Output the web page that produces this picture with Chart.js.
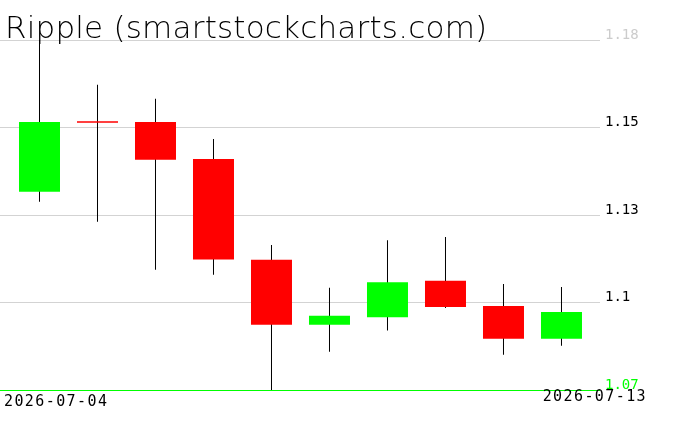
<!DOCTYPE html>
<html>
<head>
<meta charset="utf-8">
<script src="https://cdn.jsdelivr.net/npm/chart.js@4/dist/chart.umd.min.js"></script>
<style>
  html, body { margin: 0; padding: 0; background: #fff; }
  #wrap { width: 676px; height: 431px; }
</style>
</head>
<body>
<div id="wrap"><canvas id="chart" width="676" height="431"></canvas></div>
<script>
// data
const title = "Ripple (smartstockcharts.com)";
const dates = ["2026-07-04", "2026-07-05", "2026-07-06", "2026-07-07", "2026-07-08",
               "2026-07-09", "2026-07-10", "2026-07-11", "2026-07-12", "2026-07-13"];
const opens  = [1.1323, 1.1545, 1.1542, 1.1426, 1.1109, 1.0905, 1.0929, 1.1043, 1.0964, 1.0861];
const closes = [1.1542, 1.1540, 1.1424, 1.1110, 1.0905, 1.0933, 1.1039, 1.0961, 1.0861, 1.0945];
const highs  = [1.1900, 1.1659, 1.1615, 1.1489, 1.1156, 1.1021, 1.1171, 1.1181, 1.1033, 1.1024];
const lows   = [1.1292, 1.1229, 1.1078, 1.1062, 1.0700, 1.0820, 1.0887, 1.0958, 1.0811, 1.0839];
const yTicks = [1.07, 1.0975, 1.125, 1.1525, 1.18];
const yTickLabels = ["1.07", "1.1", "1.13", "1.15", "1.18"];

const UP = "#00ff00", DOWN = "#ff0000";

// title + the two date labels
const textPlugin = {
    id: "texts",
    afterDraw(chart) {
        const ctx = chart.ctx;
        ctx.save();
        ctx.fillStyle = "#000";
        ctx.textBaseline = "alphabetic";
        ctx.font = '200 31px "DejaVu Sans"';
        ctx.letterSpacing = "0.2px";
        ctx.fillText(title, 5, 38);

        ctx.font = '15px "DejaVu Sans Mono"';
        ctx.letterSpacing = "1.4px";
        ctx.fillText(dates[0], 4, 406);
        const last = dates[dates.length - 1];
        const w = ctx.measureText(last).width;
        ctx.fillText(last, 647 - w, 401);
        ctx.restore();
    }
};

new Chart(document.getElementById("chart"), {
    type: "bar",
    data: {
        datasets: [{
            // bodies
            data: dates.map((d, i) => ({ x: i, y: [opens[i], closes[i]] })),
            backgroundColor: closes.map((c, i) => c >= opens[i] ? UP : DOWN),
            barThickness: 41,
            grouped: false,
            inflateAmount: 0,
            clip: 0,
            order: 0
        }, {
            // wicks
            data: dates.map((d, i) => ({ x: i, y: [lows[i], highs[i]] })),
            backgroundColor: "#000",
            barThickness: 1,
            grouped: false,
            inflateAmount: 0,
            clip: 0,
            order: 1
        }]
    },
    options: {
        responsive: false,
        animation: false,
        events: [],
        layout: { padding: { top: 40, bottom: 41, left: 0, right: 0 } },
        plugins: { legend: { display: false }, tooltip: { enabled: false } },
        scales: {
            x: {
                type: "linear",
                display: false,
                offset: false,
                min: -0.681,
                max: 9.664
            },
            y: {
                position: "right",
                min: 1.07,
                max: 1.18,
                z: 1,
                border: { display: false },
                afterBuildTicks: s => { s.ticks = yTicks.map(v => ({ value: v })); },
                afterFit: s => { s.width = 76; },
                grid: {
                    drawTicks: false,
                    color: c => c.tick && c.tick.value === 1.07 ? UP : "#d3d3d3"
                },
                ticks: {
                    padding: 5,
                    labelOffset: -5,
                    font: { family: "DejaVu Sans Mono", size: 14 },
                    color: c => c.index === 0 ? UP : (c.index === yTicks.length - 1 ? "#cccccc" : "#000"),
                    callback: (v, i) => yTickLabels[i]
                }
            }
        }
    },
    plugins: [textPlugin]
});
</script>
</body>
</html>
